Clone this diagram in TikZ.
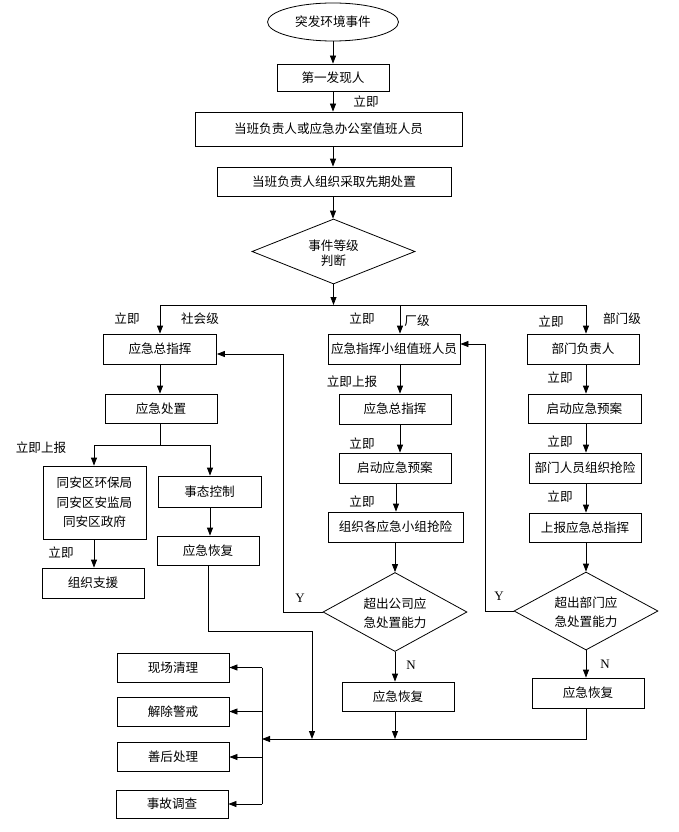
\documentclass[tikz,border=0pt]{standalone}
\usepackage{fontspec}
\newfontfamily\cjk{Noto Sans CJK SC}
\newfontfamily\ser{Liberation Serif}
\usetikzlibrary{shapes.geometric,arrows.meta}
\begin{document}
\begin{tikzpicture}[x=1pt,y=-1pt,line width=0.8pt,
  every node/.style={font=\cjk\fontsize{12.6}{15}\selectfont, inner sep=0pt},
  box/.style 2 args={draw, rectangle, minimum width=#1, minimum height=#2},
  dia/.style 2 args={draw, diamond, minimum width=#1, minimum height=#2},
  lab/.style={font=\cjk\fontsize{12.6}{15}\selectfont},
  yn/.style={font=\ser\fontsize{13}{15}\selectfont},
  arr/.style={-{Triangle[length=8pt,width=6pt]}}]
\path[use as bounding box, fill=white] (0,0) rectangle (678,832);

% top part
\node[draw, ellipse, minimum width=131pt, minimum height=38pt] (ev) at (333,22) {突发环境事件};
\node[box={112pt}{27pt}] (p1) at (333,77.5) {第一发现人};
\node[box={267pt}{34pt}] (p2) at (328.5,129) {当班负责人或应急办公室值班人员};
\node[box={234pt}{29pt}] (p3) at (334,181.5) {当班负责人组织采取先期处置};
\node[dia={163pt}{65pt}] (d0) at (333.5,251.5) {};
\node[align=center] (d0t) at (333.5,253) {事件等级\\判断};
\node[lab] (t0) at (366,102) {立即};

% left column
\node[box={113pt}{30pt}] (L1) at (160,349) {应急总指挥};
\node[box={112pt}{29pt}] (L2) at (161,408.5) {应急处置};
\node[box={103pt}{73pt}, align=center, font=\cjk\fontsize{12.6}{19.5}\selectfont] (L3) at (94.5,502.5) {同安区环保局\\同安区安监局\\同安区政府};
\node[box={103pt}{31pt}] (L4) at (209.5,491.5) {事态控制};
\node[box={102pt}{29pt}] (L5) at (208,550.5) {应急恢复};
\node[box={102pt}{30pt}] (L6) at (93,583) {组织支援};
\node[lab] (tl1) at (127,319) {立即};
\node[lab] (tl2) at (200,319) {社会级};
\node[lab] (tl3) at (41,448) {立即上报};
\node[lab] (tl4) at (61,553) {立即};

% middle column
\node[box={132pt}{30pt}] (M1) at (394,349) {应急指挥小组值班人员};
\node[box={112pt}{30pt}] (M2) at (395,409) {应急总指挥};
\node[box={112pt}{30pt}] (M3) at (395,468) {启动应急预案};
\node[box={135pt}{30pt}] (M4) at (395.5,527) {组织各应急小组抢险};
\node[dia={144pt}{79pt}] (D1) at (395,612) {};
\node[align=center, font=\cjk\fontsize{12.6}{19}\selectfont] (D1t) at (395,613) {超出公司应\\急处置能力};
\node[box={112pt}{29pt}] (M5) at (398,696.5) {应急恢复};
\node[lab] (tm1) at (362,319) {立即};
\node[lab] (tm2) at (417,321) {厂级};
\node[lab] (tm3) at (352,382) {立即上报};
\node[lab] (tm4) at (362,444) {立即};
\node[lab] (tm5) at (362,502) {立即};
\node[yn] (y1) at (300,598) {Y};
\node[yn] (n1) at (411,665) {N};

% right column
\node[box={112pt}{30pt}] (R1) at (583,349) {部门负责人};
\node[box={113pt}{29pt}] (R2) at (584.5,408.5) {启动应急预案};
\node[box={112pt}{30pt}] (R3) at (585,468) {部门人员组织抢险};
\node[box={112pt}{29pt}] (R4) at (585,527.5) {上报应急总指挥};
\node[dia={144pt}{78pt}] (D2) at (586,611) {};
\node[align=center, font=\cjk\fontsize{12.6}{19}\selectfont] (D2t) at (586,612) {超出部门应\\急处置能力};
\node[box={112pt}{30pt}] (R5) at (588,693) {应急恢复};
\node[lab] (tr1) at (551,322) {立即};
\node[lab] (tr2) at (622,319) {部门级};
\node[lab] (tr3) at (560,378) {立即};
\node[lab] (tr4) at (560,442) {立即};
\node[lab] (tr5) at (560,497) {立即};
\node[yn] (y2) at (499,596) {Y};
\node[yn] (n2) at (605,664) {N};

% bottom-left boxes
\node[box={112pt}{29pt}] (B1) at (173,667.5) {现场清理};
\node[box={112pt}{29pt}] (B2) at (173,711.5) {解除警戒};
\node[box={112pt}{29pt}] (B3) at (173,757) {善后处理};
\node[box={112pt}{28pt}] (B4) at (172,804) {事故调查};

% coordinates
\coordinate (hl) at (160,305);
\coordinate (hm) at (400,305);
\coordinate (hr) at (586,305);
\coordinate (lbl) at (94,445);
\coordinate (lbr) at (210,445);
\coordinate (xm) at (400,0);
\coordinate (xm2) at (396,0);
\coordinate (xr) at (586,0);
\coordinate (f1) at (283,354);
\coordinate (f2) at (485,344);
\coordinate (ja) at (312,631);
\coordinate (jb) at (312,739);
\coordinate (bl) at (262,739);

% top connectors
\draw[arr] (ev.south) -- (p1.north);
\draw[arr] (p1.south) -- (p1.south |- p2.north);
\draw[arr] (p2.south -| p1.south) -- (p3.north -| p1.south);
\draw[arr] (p3.south -| p1.south) -- (d0.north -| p1.south);
\draw[arr] (d0.south) -- (d0.south |- hl);
\draw (hl) -- (hr);
\draw[arr] (hl) -- (hl |- L1.north);
\draw[arr] (hm) -- (hm |- M1.north);
\draw[arr] (hr) -- (hr |- R1.north);

% left connectors
\draw[arr] (L1.south) -- (L1.south |- L2.north);
\draw (L2.south -| L1.south) -- (L1.south |- lbl);
\draw (lbl) -- (lbr);
\draw[arr] (lbl) -- (lbl |- L3.north);
\draw[arr] (lbr) -- (lbr |- L4.north);
\draw[arr] (L3.south -| lbl) -- (L6.north -| lbl);
\draw[arr] (L4.south -| lbr) -- (L5.north -| lbr);
\draw (L5.south) |- (ja);
\draw[arr] (ja) -- (jb);

% middle connectors
\draw[arr] (M1.south -| xm) -- (M2.north -| xm);
\draw[arr] (M2.south -| xm) -- (M3.north -| xm);
\draw[arr] (M3.south -| xm2) -- (M4.north -| xm2);
\draw[arr] (M4.south -| D1.north) -- (D1.north);
\draw[arr] (D1.south) -- (D1.south |- M5.north);
\draw[arr] (M5.south -| D1.south) -- (D1.south |- bl);
\draw[arr] (D1.west) -| (f1) -- (f1 -| L1.east);

% right connectors
\draw[arr] (R1.south -| xr) -- (R2.north -| xr);
\draw[arr] (R2.south -| xr) -- (R3.north -| xr);
\draw[arr] (R3.south -| xr) -- (R4.north -| xr);
\draw[arr] (R4.south -| xr) -- (D2.north);
\draw[arr] (D2.south) -- (D2.south |- R5.north);
\draw[arr] (D2.west) -| (f2) -- (f2 -| M1.east);
\draw[arr] (R5.south -| xr) |- (bl);

% distribution to final boxes
\draw (B1.east -| bl) -- (B4.east -| bl);
\draw[arr] (B1.east -| bl) -- (B1.east);
\draw[arr] (B2.east -| bl) -- (B2.east);
\draw[arr] (B3.east -| bl) -- (B3.east);
\draw[arr] (B4.east -| bl) -- (B4.east);
\end{tikzpicture}
\end{document}
